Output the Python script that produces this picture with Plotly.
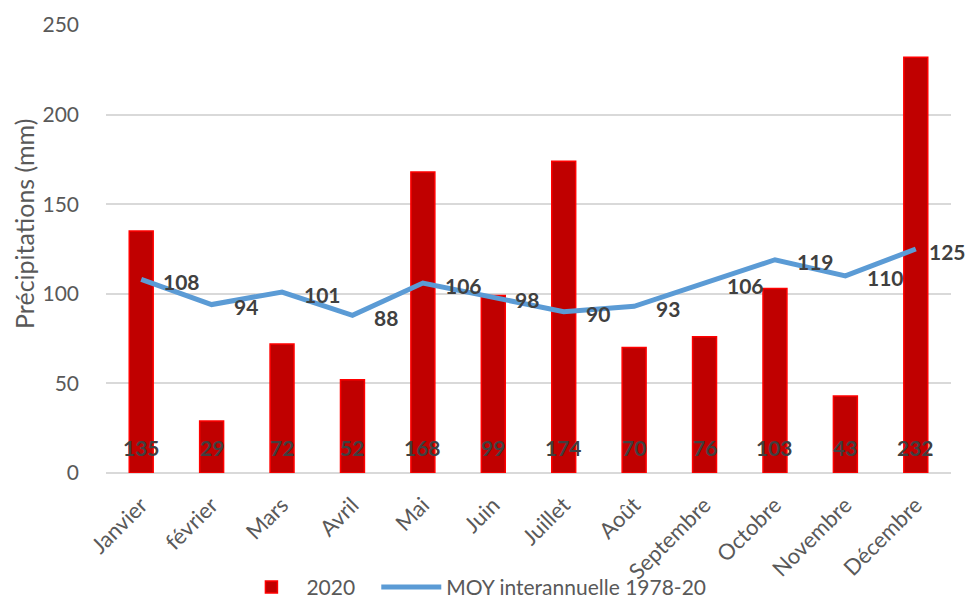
import plotly.graph_objects as go

mois = ["Janvier", "février", "Mars", "Avril", "Mai", "Juin", "Juillet",
        "Août", "Septembre", "Octobre", "Novembre", "Décembre"]
precip_2020 = [135, 29, 72, 52, 168, 99, 174, 70, 76, 103, 43, 232]
moy_1978_20 = [108, 94, 101, 88, 106, 98, 90, 93, 106, 119, 110, 125]

grey_txt = "#595959"
label_txt = "#404040"
font_family = "Lato, 'Open Sans', sans-serif"

fig = go.Figure()
fig.add_trace(go.Bar(
    x=mois, y=precip_2020, name="2020\u00a0\u00a0\u00a0",
    marker=dict(color="#C00000", line=dict(color="#FF0000", width=1.5)),
))
fig.add_trace(go.Scatter(
    x=mois, y=moy_1978_20, name="MOY interannuelle 1978-20",
    mode="lines", line=dict(color="#5B9BD5", width=5),
))

# data labels: bars at the base, line to the right of each point
for m, v in zip(mois, precip_2020):
    fig.add_annotation(x=m, y=0, text=str(v), showarrow=False,
                       yanchor="middle", yshift=26,
                       font=dict(size=21, color=label_txt, family=font_family, weight="bold"))
for i, (m, v) in enumerate(zip(mois, moy_1978_20)):
    # last label is squeezed against the right edge, like in the original
    fig.add_annotation(x=m, y=v, text=str(v), showarrow=False,
                       xanchor="left", yanchor="middle",
                       xshift=11 if i == len(mois) - 1 else 20, yshift=-2,
                       font=dict(size=21, color=label_txt, family=font_family, weight="bold"))

# y axis title placed like the original (slightly above centre)
fig.add_annotation(xref="paper", yref="paper", x=0, y=0.556, xshift=-82,
                   text="Précipitations (mm)", textangle=-90, showarrow=False,
                   xanchor="center", yanchor="middle",
                   font=dict(size=25, color=grey_txt, family=font_family))

fig.update_layout(
    width=965, height=598,
    template="plotly_white",
    font=dict(family=font_family, color=grey_txt, size=20),
    margin=dict(l=106, r=14, t=25, b=125, autoexpand=False),
    bargap=0.66,
    showlegend=True,
    legend=dict(orientation="h", xref="container", yref="paper",
                x=0.245, xanchor="left", y=-0.255, yanchor="middle",
                bgcolor="rgba(0,0,0,0)",
                itemwidth=60, font=dict(size=21, color=grey_txt)),
    plot_bgcolor="white", paper_bgcolor="white",
)
fig.update_xaxes(range=[-0.5, len(mois) - 0.5],
                 tickangle=-45, tickfont=dict(size=22, color=grey_txt),
                 ticklabelstandoff=14,
                 showgrid=False, showline=False, ticks="", automargin=False)
fig.update_yaxes(range=[0, 250], dtick=50, gridcolor="#D9D9D9", gridwidth=1.5,
                 zeroline=True, zerolinecolor="#D9D9D9", zerolinewidth=1.5,
                 tickfont=dict(size=21, color=grey_txt), ticklabelstandoff=26,
                 automargin=False)

# drop the default page margin so the figure sits at the window's origin
fig.write_html("out.html", config={"displayModeBar": False},
               post_script="document.body.style.margin='0';document.body.style.overflow='hidden';")
